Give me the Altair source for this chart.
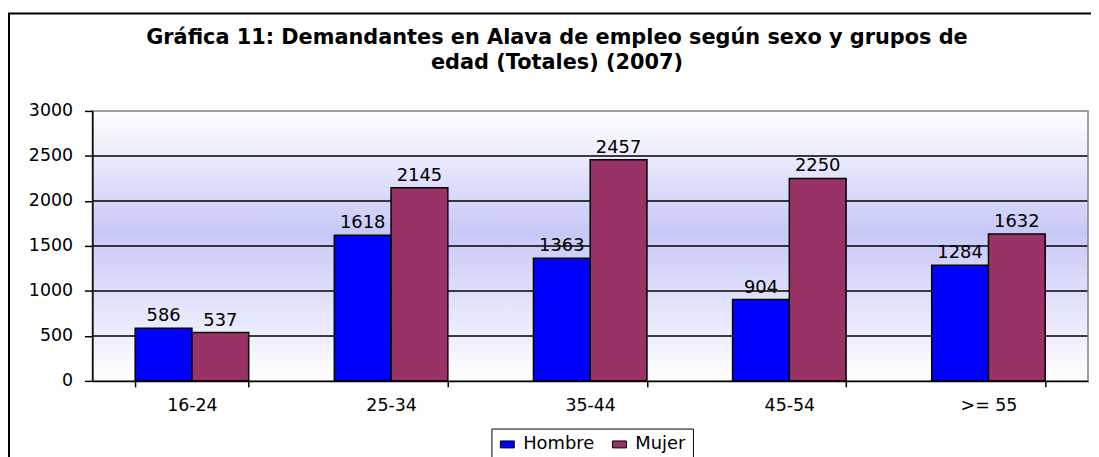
import altair as alt
import pandas as pd

categories = ["16-24", "25-34", "35-44", "45-54", ">= 55"]
hombre = [586, 1618, 1363, 904, 1284]
mujer = [537, 2145, 2457, 2250, 1632]
series = ["Hombre", "Mujer"]
colors = ["#0000FF", "#993366"]
y_ticks = [0, 500, 1000, 1500, 2000, 2500, 3000]
grid_values = [500, 1000, 1500, 2000, 2500]
title_lines = [
    "Gráfica 11: Demandantes en Alava de empleo según sexo y grupos de",
    "edad (Totales) (2007)",
]

FONT = "DejaVu Sans"
W, H = 1003, 272

rows = []
for c, h, m in zip(categories, hombre, mujer):
    rows.append({"grupo": c, "sexo": series[0], "value": h})
    rows.append({"grupo": c, "sexo": series[1], "value": m})
df = pd.DataFrame(rows)
one = pd.DataFrame({"k": [0]})

yscale = alt.Scale(domain=[0, 3000], nice=False)
xscale = alt.Scale(domain=categories, paddingInner=0.43, paddingOuter=0.215)

yaxis = alt.Axis(
    values=y_ticks, format="d", grid=False, labelFont=FONT, labelFontSize=17.5,
    labelColor="black", domainColor="black", domainWidth=1.5,
    tickColor="black", tickWidth=1.5, tickSize=8, labelPadding=12, zindex=1,
)
xaxis = alt.Axis(
    labelAngle=0, labelFont=FONT, labelFontSize=17.5, labelColor="black",
    domainColor="black", domainWidth=1.5, tickColor="black", tickWidth=1.5,
    tickSize=6, tickBand="extent", labelPadding=10, zindex=1,
)

bg = alt.Chart(one).mark_rect(
    color=alt.LinearGradient(
        gradient="linear",
        stops=[
            alt.GradientStop(color="#FFFFFF", offset=0),
            alt.GradientStop(color="#C8C8F8", offset=0.45),
            alt.GradientStop(color="#FFFFFF", offset=1),
        ],
        x1=0, x2=0, y1=0, y2=1,
    )
).encode(x=alt.value(0), x2=alt.value(W), y=alt.value(0), y2=alt.value(H))

grid = alt.Chart(pd.DataFrame({"value": grid_values})).mark_rule(
    color="black", strokeWidth=1.5
).encode(y=alt.Y("value:Q", scale=yscale, axis=yaxis, title=None))

frame = alt.Chart(one).mark_rect(
    filled=False, stroke="#808080", strokeWidth=1.5
).encode(x=alt.value(0), x2=alt.value(W), y=alt.value(0), y2=alt.value(H))

bars = alt.Chart(df).mark_bar(stroke="black", strokeWidth=1.5).encode(
    x=alt.X("grupo:N", sort=categories, scale=xscale, title=None, axis=xaxis),
    xOffset=alt.XOffset("sexo:N", sort=series),
    y=alt.Y("value:Q", scale=yscale, title=None, axis=yaxis),
    color=alt.Color(
        "sexo:N", sort=series,
        scale=alt.Scale(domain=series, range=colors),
        legend=alt.Legend(
            title=None, orient="none", legendX=402, legendY=320,
            direction="horizontal", labelFont=FONT, labelFontSize=18,
            labelColor="black", strokeColor="black", fillColor="white",
            padding=7, columnPadding=16, labelOffset=7,
            symbolType="M-1,-0.5H1V0.5H-1Z", symbolSize=196,
            symbolStrokeColor="black", symbolStrokeWidth=1, symbolOpacity=1,
        ),
    ),
)

labels = alt.Chart(df).mark_text(
    font=FONT, fontSize=18, color="black", baseline="alphabetic", dy=-7
).encode(
    x=alt.X("grupo:N", sort=categories, scale=xscale, title=None, axis=xaxis),
    xOffset=alt.XOffset("sexo:N", sort=series),
    y=alt.Y("value:Q", scale=yscale, title=None, axis=yaxis),
    text=alt.Text("value:Q"),
)

t1 = alt.Chart(one).mark_text(
    text=title_lines[0], font=FONT, fontSize=21, fontWeight="bold",
    color="black", align="center", baseline="alphabetic",
).encode(x=alt.value(468), y=alt.value(-67))
t2 = alt.Chart(one).mark_text(
    text=title_lines[1], font=FONT, fontSize=21, fontWeight="bold",
    color="black", align="center", baseline="alphabetic",
).encode(x=alt.value(468), y=alt.value(-42))

border = alt.Chart(one).mark_rect(
    filled=False, stroke="black", strokeWidth=2
).encode(x=alt.value(-84), x2=alt.value(W + 40), y=alt.value(-98), y2=alt.value(H + 120))

chart = alt.layer(bg, grid, frame, bars, labels, t1, t2, border).properties(
    width=W, height=H,
    autosize=alt.AutoSizeParams(type="none"),
    padding={"left": 85, "top": 102, "right": 3, "bottom": 75},
    background="white",
).configure_view(strokeWidth=0)

chart.save("out.html", embed_options={"renderer": "svg", "actions": False})
